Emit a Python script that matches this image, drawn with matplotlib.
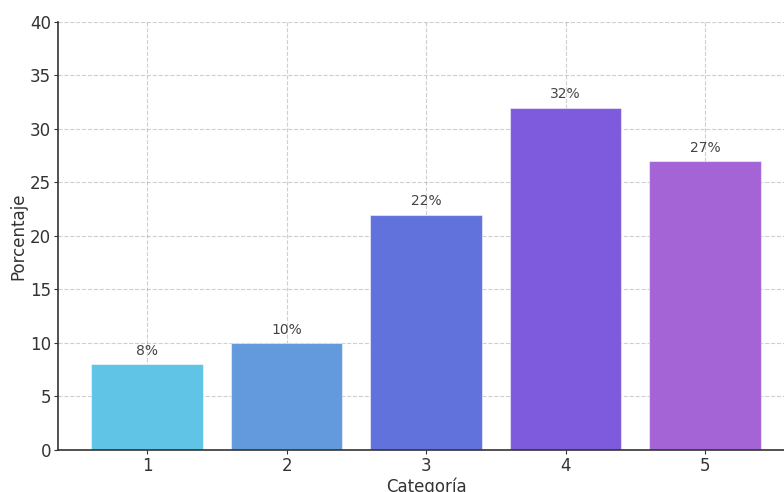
import matplotlib
matplotlib.use("Agg")
import matplotlib.pyplot as plt

categorias = [1, 2, 3, 4, 5]
porcentajes = [8, 10, 22, 32, 27]
etiquetas = ["8%", "10%", "22%", "32%", "27%"]
colores = ["#60c4e6", "#6399dd", "#6172dc", "#7d5bdc", "#a564d6"]

fig = plt.figure(figsize=(7.84, 4.92), dpi=100)
# the reference is cropped on the right, so the axes run past the figure edge
ax = fig.add_axes([0.074, 0.0854, 0.939, 0.87])

ax.bar(categorias, porcentajes, width=0.8, color=colores,
       edgecolor="#ffffff80", linewidth=0.8, zorder=2)

for x, v, t in zip(categorias, porcentajes, etiquetas):
    ax.text(x, v + 0.6, t, ha="center", va="bottom", fontsize=10, color="#444444")

ax.set_ylim(0, 40)
ax.set_xticks(categorias)
ax.set_yticks(range(0, 41, 5))
# grid drawn over the bars, faint
ax.grid(True, linestyle="--", color="#888888", alpha=0.4, linewidth=0.8, zorder=3)

for s in ["top", "right"]:
    ax.spines[s].set_visible(False)
for s in ["left", "bottom"]:
    ax.spines[s].set_color("#333333")
    ax.spines[s].set_linewidth(1.2)

ax.tick_params(axis="both", labelsize=12, colors="#333333", length=3, pad=2)
ax.set_xlabel("Categoría", fontsize=12, color="#333333", labelpad=2)
ax.set_ylabel("Porcentaje", fontsize=12, color="#333333", labelpad=2)

fig.savefig("out.png", dpi=100)
